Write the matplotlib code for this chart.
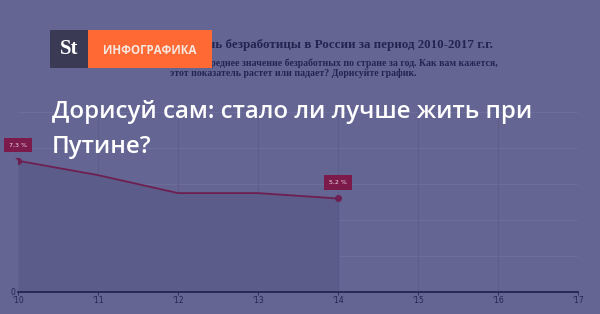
import matplotlib
matplotlib.use('Agg')
import matplotlib.pyplot as plt
from matplotlib.patches import Rectangle

# data
years = [2010, 2011, 2012, 2013, 2014]
unemp = [7.3, 6.5, 5.5, 5.5, 5.2]
tick_years = [2010, 2011, 2012, 2013, 2014, 2015, 2016, 2017]
tick_labels = ["'10", "'11", "'12", "'13", "'14", "'15", "'16", "'17"]
labels = ['7,3 %', '5,2 %']
label_idx = [0, 4]

bg = '#646593'
fill_c = '#5b5c89'
line_c = '#6e1f52'
box_c = '#7c1a4c'
navy = '#24254f'

fig = plt.figure(figsize=(6, 3.14), dpi=100)
fig.patch.set_facecolor(bg)

ax = fig.add_axes([0.03, 0.0701, 0.9333, 0.5955])
ax.set_facecolor(bg)
ax.set_xlim(2010, 2017)
ax.set_ylim(0, 10.4)

for y in [2, 4, 6, 8, 10]:
    ax.axhline(y, color='#6c6d9a', lw=0.8, zorder=0)
for x in tick_years[1:]:
    ax.axvline(x, color='#5d5e8c', lw=0.8, zorder=0)

ax.fill_between(years, unemp, 0, color=fill_c, zorder=1, lw=0)
ax.plot([years[-1], years[-1]], [0, unemp[-1]], color='#56578a', lw=0.8, zorder=1)
ax.plot(years, unemp, color=line_c, lw=1.3, zorder=3)

for i, lab in zip(label_idx, labels):
    ax.plot(years[i], unemp[i], 'o', color=line_c, ms=4, zorder=4)
    ax.annotate(lab, (years[i], unemp[i]), xytext=(0, 11.5), textcoords='offset points',
                ha='center', va='center', fontsize=4.5, color='#f0dde6', zorder=5,
                bbox=dict(boxstyle='square,pad=0.75', fc=box_c, ec='none'))
    ax.annotate('', (years[i], unemp[i]), xytext=(0, 4), textcoords='offset points',
                arrowprops=dict(arrowstyle='wedge,tail_width=0.4', color=box_c, lw=0))

for s in ['top', 'left', 'right']:
    ax.spines[s].set_visible(False)
ax.spines['bottom'].set_color(navy)
ax.spines['bottom'].set_linewidth(1.3)
ax.plot([2017, 2017], [0, 10.4], color='#56578a', lw=0.8, zorder=0)
ax.set_xticks(tick_years)
ax.set_xticklabels(tick_labels, fontsize=5.5, color=navy)
ax.tick_params(axis='x', length=2, width=0.6, color=navy, pad=1)
ax.set_yticks([0])
ax.set_yticklabels(['0'], fontsize=5.5, color=navy)
ax.tick_params(axis='y', length=0, pad=2)

# header text, its start is hidden behind the logo
fig.text(493 / 600, 1 - 45 / 314, 'Уровень безработицы в России за период 2010-2017 г.г.',
         ha='right', va='center', fontsize=9.4, fontweight='bold',
         family='Liberation Serif', color=navy)
fig.text(498 / 600, 1 - 63 / 314, 'среднее значение безработных по стране за год. Как вам кажется,',
         ha='right', va='center', fontsize=7, fontweight='bold',
         family='Liberation Serif', color=navy)
fig.text(417 / 600, 1 - 73.5 / 314, 'этот показатель растет или падает? Дорисуйте график.',
         ha='right', va='center', fontsize=7, fontweight='bold',
         family='Liberation Serif', color=navy)

# logo
fig.patches.append(Rectangle((50 / 600, 1 - 68 / 314), 38 / 600, 38 / 314,
                             transform=fig.transFigure, fc='#3b3a54', ec='none', zorder=5))
fig.patches.append(Rectangle((88 / 600, 1 - 68 / 314), 124 / 600, 38 / 314,
                             transform=fig.transFigure, fc='#fe6934', ec='none', zorder=5))
fig.text(69 / 600, 1 - 49 / 314, 'St', ha='center', va='center', fontsize=15,
         fontweight='bold', family='Liberation Serif', color='white', zorder=6)
fig.text(150 / 600, 1 - 50 / 314, 'ИНФОГРАФИКА', ha='center', va='center', fontsize=8.3,
         fontweight='bold', family='Open Sans', color='#f6e7e0', zorder=6)

# big title
fig.text(52 / 600, 1 - 112 / 314, 'Дорисуй сам: стало ли лучше жить при',
         ha='left', va='center', fontsize=17.3, fontweight='semibold',
         family='Open Sans', color='white', zorder=6)
fig.text(52 / 600, 1 - 147 / 314, 'Путине?',
         ha='left', va='center', fontsize=17.3, fontweight='semibold',
         family='Open Sans', color='white', zorder=6)

fig.savefig('out.png', dpi=100, facecolor=bg)
